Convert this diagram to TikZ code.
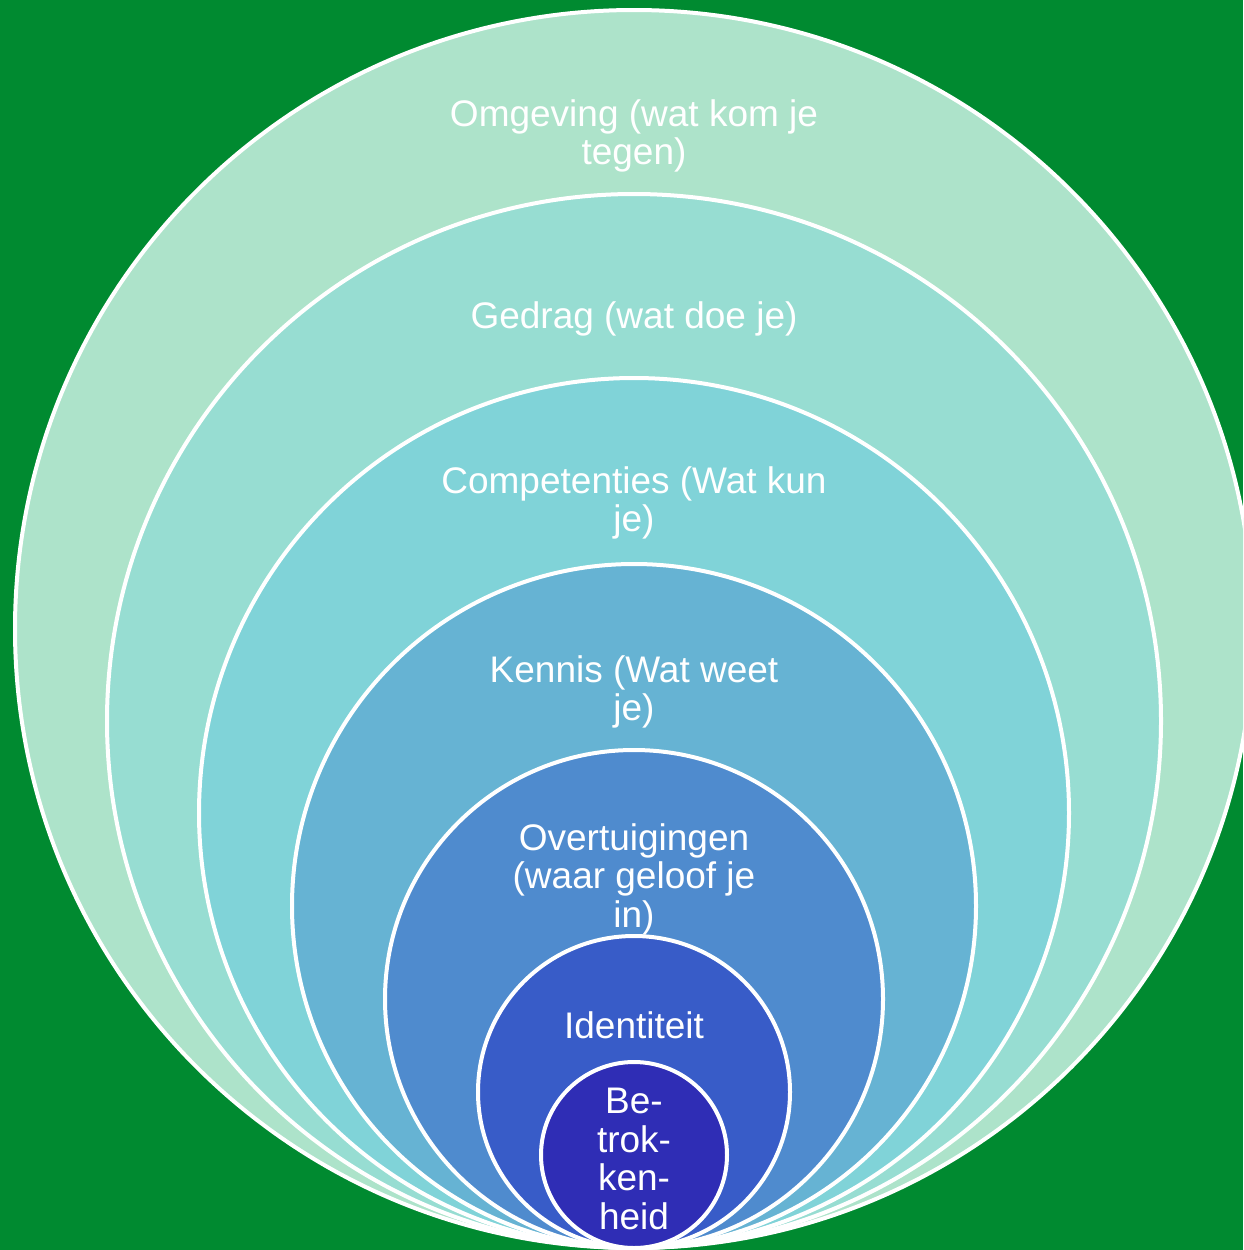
\documentclass[tikz,border=0pt]{standalone}
\usepackage{fontspec}
\setmainfont{Liberation Sans}
\definecolor{bg}{RGB}{0,138,48}
\definecolor{c1}{RGB}{173,227,202}
\definecolor{c2}{RGB}{151,221,210}
\definecolor{c3}{RGB}{128,211,216}
\definecolor{c4}{RGB}{102,179,211}
\definecolor{c5}{RGB}{79,139,206}
\definecolor{c6}{RGB}{56,92,200}
\definecolor{c7}{RGB}{47,45,181}
\tikzset{
  ring/.style={draw=white, line width=4pt},
  lbl/.style={text=white, align=center, font=\fontsize{37}{38.5}\selectfont, inner sep=0pt}
}
\begin{document}
\begin{tikzpicture}[x=1pt,y=-1pt]
\useasboundingbox (0,0) rectangle (1243,1250);
\fill[bg] (0,0) rectangle (1243,1250);
\begin{scope}
\clip (0,0) rectangle (1243,1250);
\path[ring, fill=c1] (634,629) circle[radius=619];
\path[ring, fill=c2] (634,721) circle[radius=527];
\path[ring, fill=c3] (634,813) circle[radius=435];
\path[ring, fill=c4] (634,906) circle[radius=342];
\path[ring, fill=c5] (634,999) circle[radius=249];
\path[ring, fill=c6] (634,1092) circle[radius=156];
\path[ring, fill=c7] (634,1155) circle[radius=93];
\end{scope}
\node[lbl] (t1) at (634,136) {Omgeving (wat kom je\\tegen)};
\node[lbl] (t2) at (634,319) {Gedrag (wat doe je)};
\node[lbl] (t3) at (634,503) {Competenties (Wat kun\\je)};
\node[lbl] (t4) at (634,692) {Kennis (Wat weet\\je)};
\node[lbl] (t5) at (634,879) {Overtuigingen\\(waar geloof je\\in)};
\node[lbl] (t6) at (634,1025) {Identiteit};
\node[lbl] (t7) at (634,1159) {Be-\\trok-\\ken-\\heid};
\end{tikzpicture}
\end{document}
